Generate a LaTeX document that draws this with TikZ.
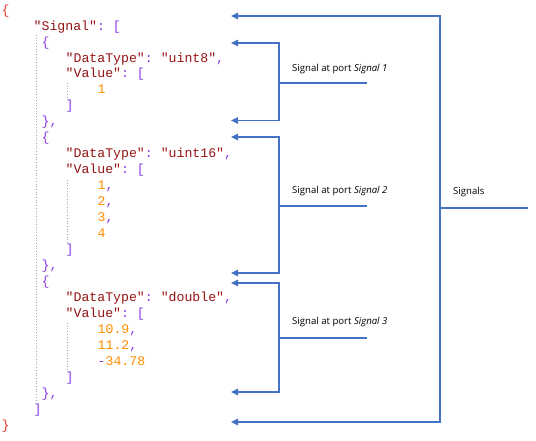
\documentclass[tikz,border=0pt]{standalone}
\usepackage{fontspec}
\setmonofont{Liberation Mono}
\newfontfamily\lblfont{Open Sans}
\usetikzlibrary{arrows.meta}
\definecolor{bracec}{RGB}{232,60,50}
\definecolor{keyc}{RGB}{150,20,20}
\definecolor{punc}{RGB}{140,60,230}
\definecolor{numc}{RGB}{255,140,0}
\definecolor{arrc}{RGB}{68,114,196}
\definecolor{guidec}{RGB}{170,170,170}
\newcommand\codefont{\ttfamily\fontsize{13.2}{16}\selectfont}
\newcommand\kq[1]{\textcolor{keyc}{"#1"}}
\newcommand\pu[1]{\textcolor{punc}{#1}}
\newcommand\nm[1]{\textcolor{numc}{#1}}
\begin{document}
\begin{tikzpicture}[x=1pt,y=-1pt,
  code/.style={anchor=mid west,inner sep=0pt,font=\codefont},
  lbl/.style={anchor=west,inner sep=0pt,font=\lblfont\fontsize{9.6}{11}\selectfont},
  guide/.style={draw=guidec,line width=0.7pt,dotted},
  conn/.style={draw=arrc,line width=1.2pt},
  arr/.style={conn,{Triangle[length=7pt,width=6.5pt]}-{Triangle[length=7pt,width=6.5pt]}}]
\useasboundingbox (0,0) rectangle (536,440);
% code lines
\node[code] (l1)  at (1.5,12.0)  {\textcolor{bracec}{\{}};
\node[code] (l2)  at (33.5,28.0) {\kq{Signal}\pu{: [}};
\node[code] (l3)  at (41.5,43.9) {\pu{\{}};
\node[code] (l4)  at (65.5,59.9) {\kq{DataType}\pu{:} \kq{uint8}\pu{,}};
\node[code] (l5)  at (65.5,75.8) {\kq{Value}\pu{: [}};
\node[code] (l6)  at (97.5,91.8) {\nm{1}};
\node[code] (l7)  at (65.5,107.8){\pu{]}};
\node[code] (l8)  at (41.5,123.7){\pu{\},}};
\node[code] (l9)  at (41.5,139.7){\pu{\{}};
\node[code] (l10) at (65.5,155.6){\kq{DataType}\pu{:} \kq{uint16}\pu{,}};
\node[code] (l11) at (65.5,171.6){\kq{Value}\pu{: [}};
\node[code] (l12) at (97.5,187.6){\nm{1}\pu{,}};
\node[code] (l13) at (97.5,203.5){\nm{2}\pu{,}};
\node[code] (l14) at (97.5,219.5){\nm{3}\pu{,}};
\node[code] (l15) at (97.5,235.4){\nm{4}};
\node[code] (l16) at (65.5,251.4){\pu{]}};
\node[code] (l17) at (41.5,267.4){\pu{\},}};
\node[code] (l18) at (41.5,283.3){\pu{\{}};
\node[code] (l19) at (65.5,299.3){\kq{DataType}\pu{:} \kq{double}\pu{,}};
\node[code] (l20) at (65.5,315.2){\kq{Value}\pu{: [}};
\node[code] (l21) at (97.5,331.2){\nm{10.9}\pu{,}};
\node[code] (l22) at (97.5,347.2){\nm{11.2}\pu{,}};
\node[code] (l23) at (97.5,363.1){\pu{-}\nm{34.78}};
\node[code] (l24) at (65.5,379.1){\pu{]}};
\node[code] (l25) at (41.5,395.0){\pu{\},}};
\node[code] (l26) at (33.5,411.0){\pu{]}};
\node[code] (l27) at (1.5,427.0) {\textcolor{bracec}{\}}};
% indent guides
\coordinate (g0a) at (36,35); \coordinate (g0b) at (36,402);
\coordinate (g1a) at (67,83); \coordinate (g1b) at (67,99);
\coordinate (g2a) at (67,180); \coordinate (g2b) at (67,243);
\coordinate (g3a) at (67,323); \coordinate (g3b) at (67,370);
\draw[guide] (g0a) -- (g0b);
\draw[guide] (g1a) -- (g1b);
\draw[guide] (g2a) -- (g2b);
\draw[guide] (g3a) -- (g3b);
% outer bracket
\coordinate (sT) at (231,16);  \coordinate (sTc) at (440,16);
\coordinate (sB) at (231,422); \coordinate (sBc) at (440,422);
\coordinate (sM) at (440,208); \coordinate (sE) at (528,208);
\draw[arr] (sT) -- (sTc) -- (sBc) -- (sB);
\draw[conn] (sM) -- (sE);
\node[lbl] (sL) at (453,192.5) {Signals};
% bracket 1
\coordinate (aT) at (231,43);  \coordinate (aTc) at (279,43);
\coordinate (aB) at (231,120.5); \coordinate (aBc) at (279,120.5);
\coordinate (aM) at (279,83); \coordinate (aE) at (367,83);
\draw[arr] (aT) -- (aTc) -- (aBc) -- (aB);
\draw[conn] (aM) -- (aE);
\node[lbl] (aL) at (292,69) {Signal at port \textit{Signal 1}};
% bracket 2
\coordinate (bT) at (231,137);  \coordinate (bTc) at (279,137);
\coordinate (bB) at (231,273); \coordinate (bBc) at (279,273);
\coordinate (bM) at (279,206); \coordinate (bE) at (367,206);
\draw[arr] (bT) -- (bTc) -- (bBc) -- (bB);
\draw[conn] (bM) -- (bE);
\node[lbl] (bL) at (292,191.5) {Signal at port \textit{Signal 2}};
% bracket 3
\coordinate (cT) at (231,283);  \coordinate (cTc) at (279,283);
\coordinate (cB) at (231,392); \coordinate (cBc) at (279,392);
\coordinate (cM) at (279,338); \coordinate (cE) at (367,338);
\draw[arr] (cT) -- (cTc) -- (cBc) -- (cB);
\draw[conn] (cM) -- (cE);
\node[lbl] (cL) at (292,322) {Signal at port \textit{Signal 3}};
\end{tikzpicture}
\end{document}
